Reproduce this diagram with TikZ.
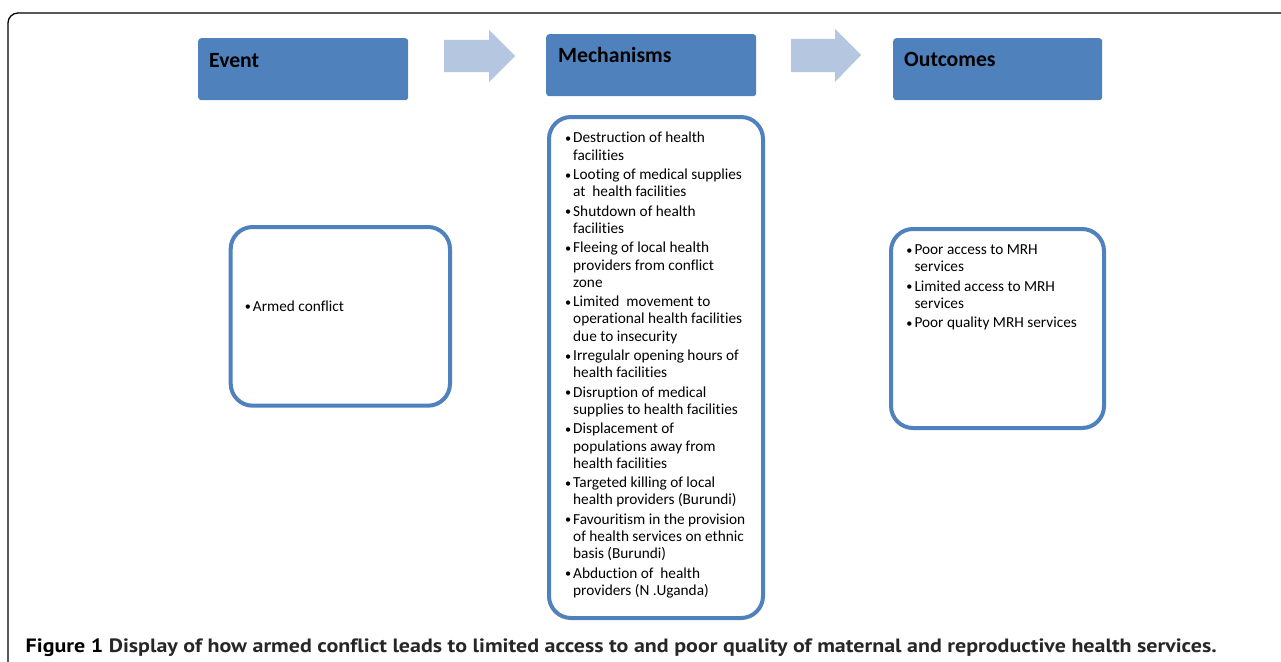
\documentclass[tikz,border=0pt]{standalone}
\usepackage{fontspec}
\setmainfont[Ligatures={NoCommon,NoRare,NoContextual}]{Carlito}
\newfontfamily\capfont[Ligatures={NoCommon}]{PT Sans}
\usepackage{graphicx}
\definecolor{hdr}{RGB}{79,129,189}
\definecolor{arr}{RGB}{180,198,224}
\definecolor{captxt}{RGB}{40,38,40}
\newcommand{\bul}{\makebox[9.6pt][l]{\hspace*{1.5pt}\raisebox{0.5pt}{\scalebox{0.8}{•}}}}
\begin{document}
\begin{tikzpicture}[x=1pt,y=-1pt,
  header/.style={fill=hdr, rounded corners=3pt, inner sep=0pt, anchor=north west},
  listbox/.style={draw=hdr, line width=4pt, rounded corners=22pt, fill=white, inner sep=0pt, anchor=north west},
  htext/.style={font=\fontsize{21.7}{26}\selectfont\bfseries, anchor=base west, inner sep=0pt},
  ltext/.style={font=\fontsize{15.3}{17.3}\selectfont, anchor=north west, inner sep=0pt, align=left},
]
\useasboundingbox (0,0) rectangle (1281,661);
\clip (0,0) rectangle (1281,661);
\fill[white] (0,0) rectangle (1281,661);
\draw[line width=1.3pt, rounded corners=10pt] (1300,13) -- (8,13) -- (8,700);

% headers
\node[header, minimum width=210pt, minimum height=62pt] (event) at (198,38) {};
\node[header, minimum width=210pt, minimum height=62pt] (mech) at (546,34) {};
\node[header, minimum width=209pt, minimum height=62pt] (outc) at (893,38) {};
\node[htext] (eventlbl) at (209,67) {Event};
\node[htext] (mechlbl) at (558,62.5) {Mechanisms};
\node[htext] (outclbl) at (904,66.5) {Outcomes};

% block arrows
\fill[arr] (444,40) -- (489,40) -- (489,30) -- (515,56) -- (489,82) -- (489,72) -- (444,72) -- cycle;
\fill[arr] (791,39) -- (835,39) -- (835,29) -- (861,55) -- (835,82) -- (835,72) -- (791,72) -- cycle;

% list boxes
\node[listbox, minimum width=219.3pt, minimum height=178.7pt] (evbox) at (228.7,225) {};
\node[listbox, minimum width=214pt, minimum height=501pt] (mechbox) at (547,115) {};
\node[listbox, minimum width=213pt, minimum height=199pt] (outbox) at (889,227) {};

% list texts
\node[ltext, anchor=base west] (evtext) at (243.1,311) {\bul Armed conflict};
\node[ltext] (mechtext) at (563.4,130.6) {%
\begin{tabular}{@{}l@{}}
\bul Destruction of health\\
\hspace*{9.6pt}facilities\\[2pt]
\bul Looting of medical supplies\\
\hspace*{9.6pt}at\ \ health facilities\\[2pt]
\bul Shutdown of health\\
\hspace*{9.6pt}facilities\\[2pt]
\bul Fleeing of local health\\
\hspace*{9.6pt}providers from conflict\\
\hspace*{9.6pt}zone\\[2pt]
\bul Limited\ \ movement to\\
\hspace*{9.6pt}operational health facilities\\
\hspace*{9.6pt}due to insecurity\\[2pt]
\bul Irregulalr opening hours of\\
\hspace*{9.6pt}health facilities\\[2pt]
\bul Disruption of medical\\
\hspace*{9.6pt}supplies to health facilities\\[2pt]
\bul Displacement of\\
\hspace*{9.6pt}populations away from\\
\hspace*{9.6pt}health facilities\\[2pt]
\bul Targeted killing of local\\
\hspace*{9.6pt}health providers (Burundi)\\[2pt]
\bul Favouritism in the provision\\
\hspace*{9.6pt}of health services on ethnic\\
\hspace*{9.6pt}basis (Burundi)\\[2pt]
\bul Abduction of\ \ health\\
\hspace*{9.6pt}providers (N .Uganda)
\end{tabular}};
\node[ltext] (outtext) at (904.7,242.2) {%
\begin{tabular}{@{}l@{}}
\bul Poor access to MRH\\
\hspace*{9.6pt}services\\[2pt]
\bul Limited access to MRH\\
\hspace*{9.6pt}services\\[2pt]
\bul Poor quality MRH services
\end{tabular}};

% caption
\node[anchor=base west, inner sep=0pt, text=captxt] (caption) at (25.5,652) {\resizebox{1191pt}{\height}{\capfont\fontsize{19.3}{22}\selectfont\bfseries \textcolor{black}{Figure 1} Display of how armed conflict leads to limited access to and poor quality of maternal and reproductive health services.}};
\end{tikzpicture}
\end{document}
